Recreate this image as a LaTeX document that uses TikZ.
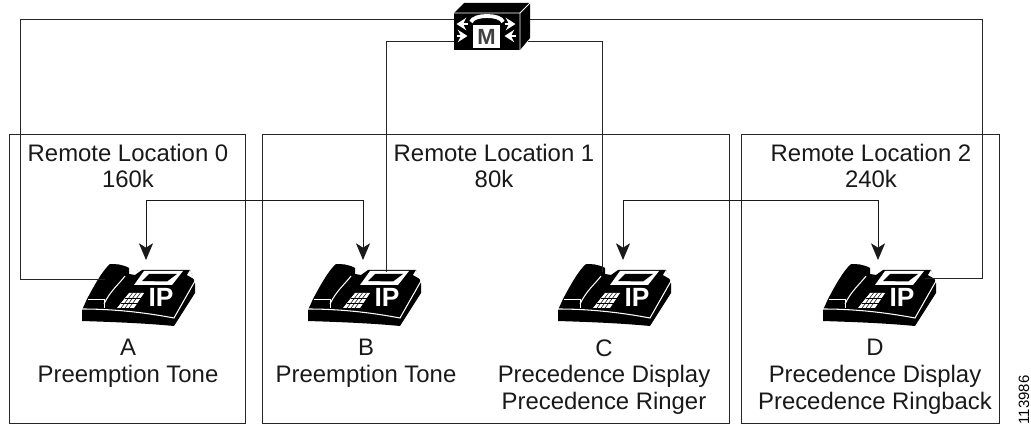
\documentclass[tikz,border=0pt]{standalone}
\usepackage{fontspec}
\setmainfont{Liberation Sans}
\usetikzlibrary{arrows.meta}
\tikzset{
  wire/.style={black!85, line width=0.55pt},
  feed/.style={black!90, line width=0.5pt, {Stealth[length=9.5pt, width=8pt, inset=2.5pt]}-{Stealth[length=9.5pt, width=8pt, inset=2.5pt]}},
  locbox/.style={black!85, line width=0.55pt},
  lbl/.style={align=center, text=black!90, font=\fontsize{13.6}{15.2}\selectfont, inner sep=0pt},
  phone/.pic={
    % silhouette with handset
    \fill[black] (0,-11) -- (0,0) .. controls (30,1) and (60,2) .. (92,5) -- (113,-28) -- (113,-38) -- (108,-51) -- (60,-51) -- (53,-46) -- (47,-47) -- (47,-53) .. controls (40,-57) and (33,-57) .. (28,-57) .. controls (20,-50) and (12,-35) .. (5,-22) -- cycle;
    % gap beside handset
    \draw[white, line width=0.6pt] (43,-45) .. controls (38,-38) and (28,-30) .. (22,-17);
    \draw[white, line width=0.5pt] (6,-22) -- (22,-22) -- (22,-13);
    % cradle corners
    \fill[white] (48,-48) -- (52,-52) -- (54,-47) -- cycle;
    \fill[white] (105,-46) -- (108,-51) -- (112,-42) -- cycle;
    % display
    \fill[white] (52,-36) -- (62,-50) -- (101,-50) -- (90,-36) -- cycle;
    \fill[black] (60,-40) -- (67,-47) -- (95,-47) -- (85,-39.5) -- cycle;
    % keypad
    \fill[white] (35,-13) -- (47,-28) -- (62,-28) -- (52,-13) -- cycle;
    \foreach \kx in {39,43,47}
      \draw[black, line width=0.3pt] (\kx,-13) -- (\kx+11.5,-28);
    \foreach \ky in {-18,-23}
      \draw[black, line width=0.3pt] (24.6-0.8*\ky,\ky) -- (41.6-0.8*\ky,\ky);
    % front edge
    \draw[white, line width=0.6pt] (0,-12) .. controls (30,-12) and (60,-9) .. (92,-3) -- (113,-40);
    \node[white, font=\bfseries\fontsize{15}{15}\selectfont, inner sep=0pt] at (79,-23.5) {IP};
  }
}
\begin{document}
\begin{tikzpicture}[x=0.02cm, y=-0.02cm]
\useasboundingbox (0,0) rectangle (1031,425);
% location boxes
\draw[locbox] (9,134) rectangle (245,423);
\draw[locbox] (262,134) rectangle (729,423);
\draw[locbox] (741,134) rectangle (999,423);
% labels
\node[lbl] (loc0) at (128,166) {Remote Location 0\\160k};
\node[lbl] (loc1) at (494,166) {Remote Location 1\\80k};
\node[lbl] (loc2) at (871,166) {Remote Location 2\\240k};
% phones
\path (82,321) pic {phone};
\path (308,321) pic {phone};
\path (558,321) pic {phone};
\path (823,321) pic {phone};
\coordinate (phoneA) at (146,260);
\coordinate (phoneB) at (363,260);
\coordinate (phoneC) at (623,260);
\coordinate (phoneD) at (878,260);
\node[lbl, anchor=north] (descA) at (128,339) {A\\Preemption Tone};
\node[lbl, anchor=north] (descB) at (366,339) {B\\Preemption Tone};
\node[lbl, anchor=north] (descC) at (604,339) {C\\Precedence Display\\Precedence Ringer};
\node[lbl, anchor=north] (descD) at (875,339) {D\\Precedence Display\\Precedence Ringback};
\node[rotate=90, font=\fontsize{8.5}{10}\selectfont, inner sep=0pt] (figid) at (1024,400) {113986};
% connectors
\coordinate (mcuL) at (454,19);
\coordinate (mcuLL) at (454,41);
\coordinate (mcuR) at (528,19);
\coordinate (mcuRR) at (528,41);
\draw[wire] (mcuL) -- (20.5,19) -- (20.5,279) -- (105,279);
\draw[wire] (mcuLL) -- (386,41) -- (386,272);
\draw[wire] (mcuRR) -- (602,41) -- (602,272);
\draw[wire] (mcuR) -- (982,19) -- (982,278) -- (925,278);
\draw[feed] (phoneA) -- (146,200.6) -- (363,200.6) -- (phoneB);
\draw[feed] (phoneC) -- (623,200.6) -- (878,200.6) -- (phoneD);
% conference bridge
\fill[black] (454,13) -- (464,3) -- (530,3) -- (530,38) -- (520,50) -- (454,50) -- cycle;
\draw[white, line width=0.5pt] (454,13) -- (520,13) -- (530,3) (520,13) -- (520,50);
\fill[white] (473,25) rectangle (500,48);
\node[black!75, font=\bfseries\fontsize{12.5}{12.5}\selectfont, inner sep=0pt] (mlogo) at (486.5,37) {M};
\draw[white, line width=2.2pt] (471,22) .. controls (473,14) and (501,14) .. (503,22);
\foreach \ax/\ay/\ad in {462/24/-1, 462/36/1, 510/24/1, 510/36/-1}
  \draw[white, line width=1.5pt, -{Stealth[length=5.5pt, width=7pt]}] (\ax-5.5*\ad,\ay) -- (\ax+5.5*\ad,\ay);
\end{tikzpicture}
\end{document}
